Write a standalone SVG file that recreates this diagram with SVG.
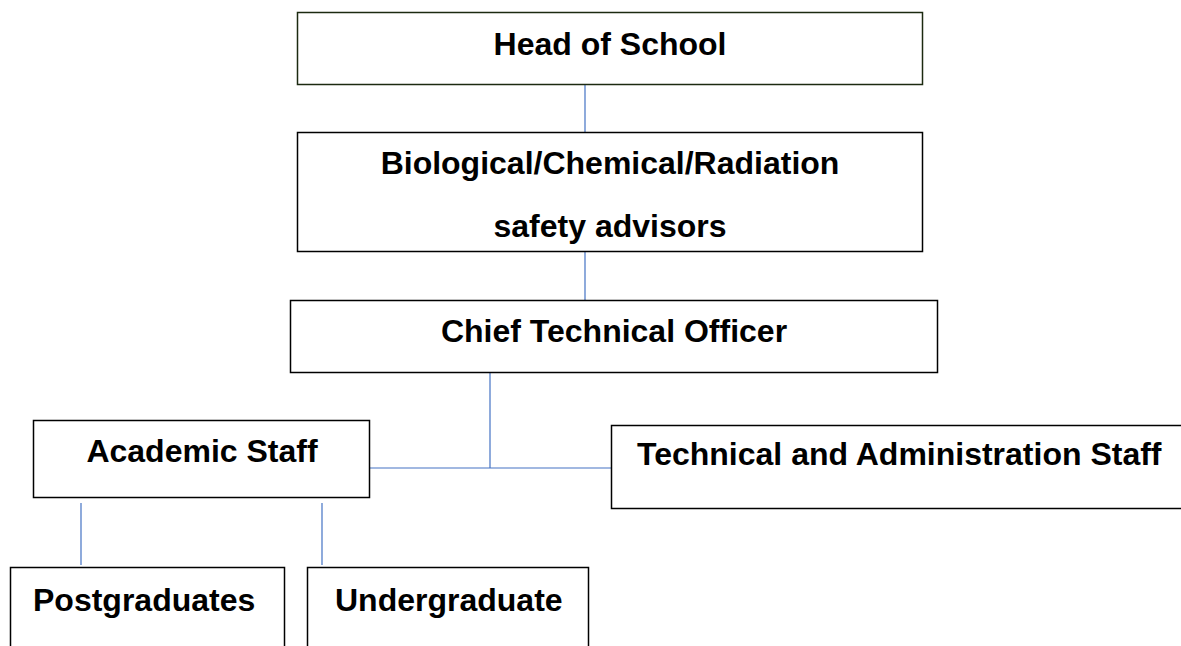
<svg xmlns="http://www.w3.org/2000/svg" width="1181" height="646" viewBox="0 0 1181 646">
<style>
.box{fill:#fff;stroke:#000;stroke-width:1.5}
.g{stroke:#1c2a10}
.t{font-family:"Liberation Sans",Arial,sans-serif;font-weight:bold;font-size:32px;fill:#000}
.c{stroke:#4472C4;stroke-width:1.2;fill:none}
</style>
<rect width="1181" height="646" fill="#fff"/>
<g id="connectors">
<line class="c" x1="585" y1="85" x2="585" y2="132"/>
<line class="c" x1="585" y1="252" x2="585" y2="300"/>
<line class="c" x1="490" y1="373" x2="490" y2="468"/>
<line class="c" x1="370" y1="468" x2="611" y2="468"/>
<line class="c" x1="81" y1="503" x2="81" y2="565"/>
<line class="c" x1="322" y1="503" x2="322" y2="565"/>
</g>
<g id="head">
<rect class="box g" x="297.5" y="12.5" width="625" height="72"/>
<text class="t" x="610" y="55" text-anchor="middle">Head of School</text>
</g>
<g id="advisors">
<rect class="box" x="297.5" y="132.5" width="625" height="119"/>
<text class="t" x="610" y="174" text-anchor="middle">Biological/Chemical/Radiation</text>
<text class="t" x="610" y="237" text-anchor="middle">safety advisors</text>
</g>
<g id="cto">
<rect class="box" x="290.5" y="300.5" width="647" height="72"/>
<text class="t" x="614" y="342" text-anchor="middle">Chief Technical Officer</text>
</g>
<g id="academic">
<rect class="box" x="33.5" y="420.5" width="336" height="77"/>
<text class="t" x="202" y="462" text-anchor="middle">Academic Staff</text>
</g>
<g id="technical">
<rect class="box" x="611.5" y="425.5" width="580" height="83"/>
<text class="t" x="637" y="465">Technical and Administration Staff</text>
</g>
<g id="postgrad">
<rect class="box" x="10.5" y="567.5" width="274" height="100"/>
<text class="t" x="33" y="611">Postgraduates</text>
</g>
<g id="undergrad">
<rect class="box" x="307.5" y="567.5" width="281" height="100"/>
<text class="t" x="335" y="611">Undergraduate</text>
</g>
</svg>
